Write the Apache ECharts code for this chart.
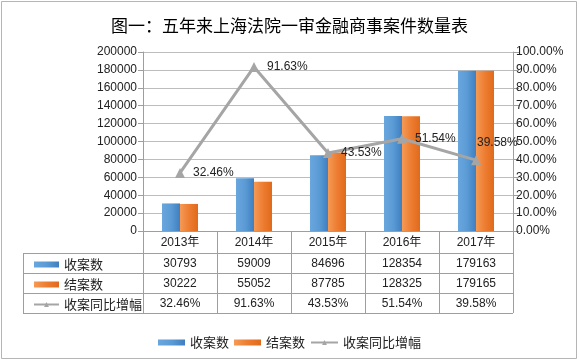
<!DOCTYPE html>
<html><head><meta charset="utf-8">
<script src="https://cdn.jsdelivr.net/npm/echarts@6/dist/echarts.min.js"></script>
<style>html,body{margin:0;padding:0;background:#fff}#c{width:579px;height:361px}</style>
</head><body><div id="c"></div>
<script>
var categories = ['2013年','2014年','2015年','2016年','2017年'];
var receivedCases = [30793, 59009, 84696, 128354, 179163];
var closedCases = [30222, 55052, 87785, 128325, 179165];
var growthRate = [32.46, 91.63, 43.53, 51.54, 39.58];
var seriesNames = ['收案数','结案数','收案同比增幅'];
var titleText = '图一：五年来上海法院一审金融商事案件数量表';

var chart = echarts.init(document.getElementById('c'), null, {renderer:'canvas'});
var numFont = "'Liberation Sans','Noto Sans CJK SC',sans-serif";
var cjkFont = "'Noto Sans CJK SC','Liberation Sans',sans-serif";
var txt = '#222';
var gridColor = '#bdbdbd';
var blue = new echarts.graphic.LinearGradient(0,0,1,0,[{offset:0,color:'#6aa6de'},{offset:0.5,color:'#5b9bd5'},{offset:1,color:'#3f7fc0'}]);
var orange = new echarts.graphic.LinearGradient(0,0,1,0,[{offset:0,color:'#f59a55'},{offset:0.5,color:'#ed7d31'},{offset:1,color:'#e06a1c'}]);

var G = {left:143, right:513, top:52, bottom:231};
var rows = [253, 273, 293, 313];
var graphics = [{type:'rect', shape:{x:1.5,y:1.5,width:575,height:357}, style:{fill:'none', stroke:'#b5b5b5', lineWidth:1}, silent:true}];
rows.forEach(function(y){
  graphics.push({type:'line', shape:{x1:23,y1:y+0.5,x2:G.right,y2:y+0.5}, style:{stroke:'#9e9e9e', lineWidth:1}, silent:true});
});
graphics.push({type:'line', shape:{x1:23.5,y1:rows[0],x2:23.5,y2:rows[3]}, style:{stroke:'#9e9e9e', lineWidth:1}, silent:true});

var lineData = growthRate.map(function(v, i){
  if (i === growthRate.length - 1) {
    return {value:v, label:{distance:0, offset:[-4,-17]}};
  }
  return v;
});

var option = {
  backgroundColor:'#fff',
  animation:false,
  title:{text:titleText, left:'center', top:12, textStyle:{fontFamily:cjkFont, fontSize:17, fontWeight:'normal', color:'#000'}},
  legend:[{
    top:331, left:'center', itemWidth:27, itemHeight:6, itemGap:5,
    textStyle:{fontFamily:cjkFont, fontSize:13, color:txt},
    data:[{name:seriesNames[0], icon:'rect'},{name:seriesNames[1], icon:'rect'},{name:seriesNames[2]}]
  },{
    orient:'vertical', left:28, top:253, itemWidth:25, itemHeight:6, itemGap:7,
    textStyle:{fontFamily:cjkFont, fontSize:13, color:txt},
    data:[{name:seriesNames[0], icon:'rect'},{name:seriesNames[1], icon:'rect'},{name:seriesNames[2]}]
  }],
  grid:{left:G.left, right:579-G.right, top:G.top, bottom:361-G.bottom, containLabel:false},
  xAxis:{
    type:'category', data:categories,
    axisLine:{show:true, lineStyle:{color:'#9e9e9e'}},
    axisTick:{show:true, length:82, inside:false, lineStyle:{color:'#9e9e9e'}},
    axisLabel:{
      margin:1, interval:0,
      formatter:function(v, i){
        return '{h|'+v+'}\n{r|'+receivedCases[i]+'}\n{r|'+closedCases[i]+'}\n{r|'+growthRate[i].toFixed(2)+'%}';
      },
      rich:{h:{fontFamily:numFont, fontSize:12, color:txt, lineHeight:22}, r:{fontFamily:numFont, fontSize:12, color:txt, lineHeight:20}}
    }
  },
  yAxis:[{
    type:'value', min:0, max:200000, interval:20000,
    axisLine:{show:true, lineStyle:{color:'#9e9e9e'}},
    axisTick:{show:true, length:5, lineStyle:{color:'#9e9e9e'}},
    axisLabel:{fontFamily:numFont, fontSize:12, color:txt, margin:6, formatter:function(v){return String(v);}},
    splitLine:{show:true, lineStyle:{color:gridColor}}
  },{
    type:'value', min:0, max:100, interval:10, position:'right',
    axisLine:{show:true, lineStyle:{color:'#9e9e9e'}},
    axisTick:{show:true, length:6, lineStyle:{color:'#9e9e9e'}},
    axisLabel:{fontFamily:numFont, fontSize:12, color:txt, margin:3, formatter:function(v){return v.toFixed(2)+'%';}},
    splitLine:{show:false}
  }],
  series:[{
    name:seriesNames[0], type:'bar', data:receivedCases, barWidth:18, barGap:'0%',
    itemStyle:{color:blue}
  },{
    name:seriesNames[1], type:'bar', data:closedCases, barWidth:18, barGap:'0%',
    itemStyle:{color:orange}
  },{
    name:seriesNames[2], type:'line', yAxisIndex:1, data:lineData,
    symbol:'triangle', symbolSize:10,
    lineStyle:{color:'#a5a5a5', width:3},
    itemStyle:{color:'#a5a5a5'},
    label:{show:true, position:'right', distance:8, fontFamily:numFont, fontSize:12, color:txt,
      formatter:function(p){return Number(p.value).toFixed(2)+'%';}},
    z:5
  }],
  graphic:graphics
};
chart.setOption(option);
</script>
</body></html>
